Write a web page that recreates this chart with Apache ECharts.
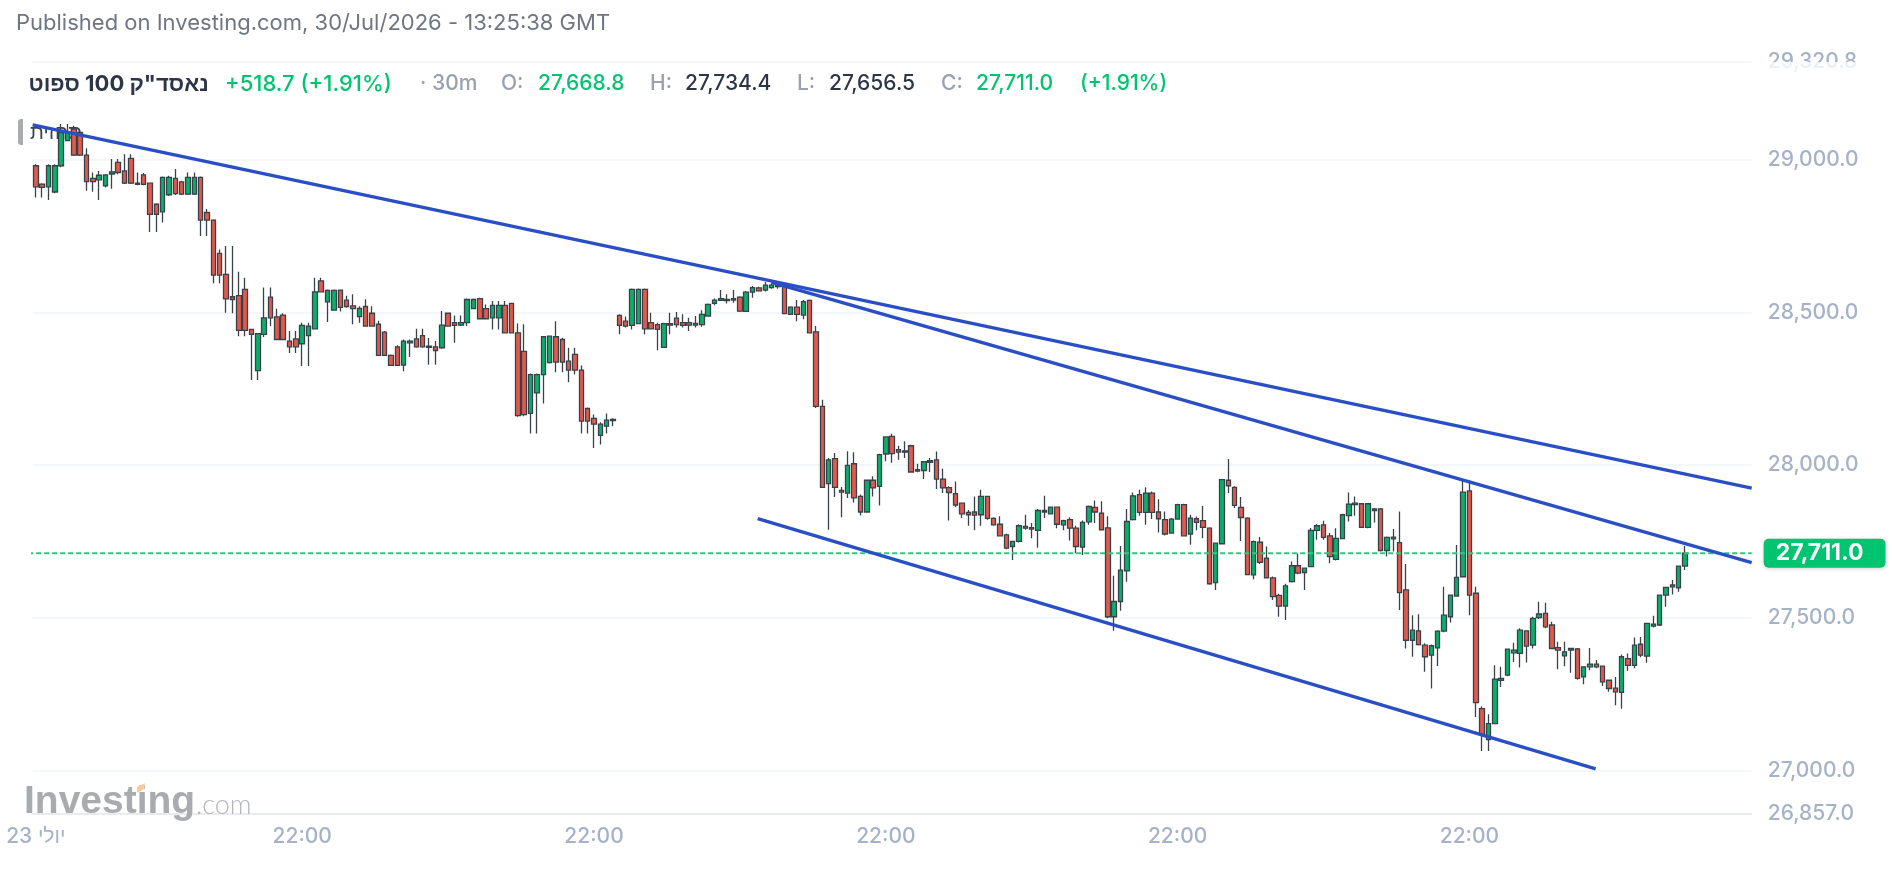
<!DOCTYPE html>
<html><head><meta charset="utf-8">
<script src="https://cdn.jsdelivr.net/npm/echarts@6/dist/echarts.min.js"></script>
<style>html,body{margin:0;padding:0;background:#fff}#c{width:1892px;height:869px}</style>
</head><body><div id="c"></div>
<script>
const opens=[28980,28920,28911,28894,28980,29062,29100,29089,29015,28939,
28934,28914,28953,28991,28963,29004,28923,28950,28923,28854,
28829,28885,28939,28927,28887,28887,28942,28827,28802,28693,
28624,28551,28555,28575,28444,28309,28428,28550,28485,28491,
28406,28413,28397,28424,28446,28603,28534,28507,28573,28540,
28521,28486,28519,28497,28461,28435,28359,28387,28327,28400,
28413,28424,28389,28387,28384,28497,28466,28458,28466,28512,
28545,28512,28482,28482,28523,28529,28433,28372,28169,28236,
28296,28335,28420,28411,28340,28362,28311,28185,28153,28097,
28127,28145,28490,28471,28457,28463,28575,28466,28460,28385,
28463,28481,28466,28466,28458,28460,28488,28529,28539,28538,
28540,28550,28503,28566,28580,28573,28581,28584,28586,28493,
28517,28491,28539,28436,28192,27939,28021,27917,27908,28004,
27897,27846,27950,27930,28036,28094,28050,28046,28063,27985,
27982,28009,28017,27954,27926,27906,27875,27845,27846,27837,
27897,27825,27806,27771,27733,27750,27799,27795,27786,27851,
27840,27862,27804,27821,27793,27731,27814,27861,27842,27794,
27503,27553,27653,27821,27903,27845,27908,27846,27821,27777,
27823,27870,27774,27824,27818,27793,27615,27742,27950,27927,
27861,27826,27640,27747,27695,27630,27573,27538,27618,27670,
27648,27667,27786,27804,27768,27691,27759,27834,27870,27873,
27796,27851,27856,27720,27758,27746,27591,27426,27457,27410,
27377,27401,27456,27503,27571,27634,27915,27580,27202,27101,
27153,27295,27312,27385,27383,27457,27410,27500,27514,27476,
27402,27375,27394,27398,27306,27339,27348,27341,27295,27269,
27255,27366,27344,27413,27374,27472,27476,27574,27601,27598,
27668.8];
const closes=[28911,28909,28980,28980,29089,29089,29015,29015,28928,28928,
28949,28950,28960,28958,28923,28923,28919,28919,28821,28821,
28942,28942,28889,28887,28942,28942,28802,28802,28622,28622,
28544,28542,28441,28441,28428,28430,28482,28482,28411,28411,
28387,28387,28457,28455,28567,28567,28572,28572,28516,28519,
28512,28513,28455,28455,28359,28359,28326,28326,28406,28406,
28387,28387,28385,28375,28458,28455,28457,28466,28542,28542,
28479,28479,28523,28523,28433,28433,28162,28165,28296,28296,
28420,28422,28337,28337,28311,28311,28144,28144,28134,28134,
28147,28149,28457,28455,28575,28575,28446,28446,28444,28463,
28458,28460,28457,28458,28464,28493,28526,28540,28545,28542,
28545,28504,28566,28581,28570,28589,28589,28590,28496,28517,
28493,28535,28433,28192,27927,28017,27927,27911,27999,27892,
27846,27950,27925,28034,28092,28037,28042,28042,27977,27980,
28011,28014,27954,27925,27910,27869,27840,27837,27836,27897,
27825,27804,27768,27728,27750,27801,27793,27790,27851,27846,
27862,27806,27818,27793,27733,27812,27864,27846,27788,27503,
27553,27656,27815,27899,27845,27908,27845,27824,27774,27823,
27870,27768,27826,27812,27796,27611,27744,27952,27932,27868,
27828,27641,27749,27681,27630,27569,27538,27604,27670,27646,
27662,27786,27801,27763,27700,27760,27837,27872,27875,27796,
27873,27856,27720,27763,27764,27582,27426,27459,27412,27372,
27408,27456,27508,27574,27632,27911,27574,27222,27118,27153,
27299,27301,27397,27394,27459,27407,27498,27512,27470,27399,
27394,27388,27399,27301,27339,27348,27339,27290,27268,27257,
27372,27344,27410,27377,27481,27479,27574,27599,27607,27669,
27711];
const lows=[28876,28876,28868,28890,28975,29060,29012,29012,28898,28895,
28868,28909,28905,28952,28920,28920,28916,28916,28763,28763,
28794,28881,28884,28884,28884,28884,28750,28750,28595,28595,
28499,28497,28422,28422,28278,28278,28419,28455,28409,28409,
28367,28367,28324,28324,28444,28565,28468,28505,28503,28515,
28461,28466,28453,28453,28357,28357,28324,28324,28307,28354,
28384,28384,28328,28328,28381,28453,28400,28455,28455,28510,
28477,28477,28444,28444,28431,28431,28158,28160,28103,28103,
28201,28332,28304,28304,28271,28296,28103,28103,28056,28067,
28103,28127,28428,28450,28444,28461,28428,28444,28376,28383,
28428,28450,28450,28439,28450,28453,28486,28523,28537,28529,
28531,28501,28501,28548,28568,28568,28577,28577,28495,28491,
28471,28477,28431,28187,27925,27788,27895,27829,27892,27877,
27835,27845,27897,27867,28012,28007,28017,28023,27976,27976,
27954,27977,27921,27908,27818,27862,27826,27801,27786,27801,
27821,27801,27766,27724,27689,27746,27788,27760,27729,27826,
27838,27793,27786,27753,27711,27705,27804,27810,27786,27498,
27457,27523,27618,27818,27834,27804,27823,27779,27769,27775,
27821,27766,27739,27786,27760,27608,27591,27740,27908,27859,
27751,27639,27626,27676,27628,27558,27503,27492,27615,27642,
27591,27665,27755,27755,27678,27687,27757,27815,27834,27794,
27793,27812,27717,27700,27717,27525,27399,27372,27409,27323,
27268,27342,27452,27484,27569,27632,27508,27175,27063,27063,
27151,27273,27308,27355,27337,27353,27399,27496,27465,27397,
27331,27341,27320,27297,27282,27328,27334,27276,27257,27213,
27202,27326,27334,27370,27352,27468,27473,27536,27576,27585,
27656.5];
const highs=[28985,28923,28985,28985,29117,29117,29111,29098,29037,28958,
28963,28952,29002,29002,29018,29018,28958,28956,28925,28857,
28945,28947,28969,28931,28958,28958,28945,28838,28805,28706,
28717,28717,28633,28613,28446,28431,28581,28581,28512,28497,
28439,28439,28466,28466,28613,28613,28575,28575,28575,28554,
28559,28520,28543,28520,28472,28439,28362,28392,28411,28411,
28446,28446,28416,28406,28504,28499,28490,28490,28545,28545,
28548,28526,28537,28537,28537,28531,28463,28461,28300,28300,
28422,28424,28471,28417,28384,28384,28326,28188,28165,28140,
28169,28153,28494,28486,28578,28578,28578,28499,28466,28466,
28499,28501,28494,28482,28488,28507,28529,28545,28573,28559,
28573,28553,28570,28586,28584,28599,28595,28597,28592,28520,
28540,28540,28542,28455,28214,28023,28039,27928,28045,28042,
27903,27952,27963,28037,28094,28102,28063,28078,28066,28004,
28013,28023,28044,27988,27930,27946,27877,27853,27897,27919,
27899,27829,27832,27775,27752,27806,27837,27810,27856,27899,
27864,27864,27821,27829,27801,27818,27867,27884,27881,27832,
27637,27735,27856,27910,27919,27927,27913,27888,27848,27826,
27873,27873,27837,27831,27866,27796,27746,27954,28020,27930,
27895,27829,27753,27764,27733,27635,27578,27611,27684,27709,
27664,27794,27806,27817,27777,27793,27840,27910,27897,27875,
27875,27859,27859,27766,27790,27848,27676,27508,27511,27416,
27412,27459,27601,27576,27738,27949,27949,27601,27210,27184,
27344,27339,27399,27418,27465,27459,27503,27552,27549,27487,
27421,27421,27401,27401,27341,27401,27361,27343,27297,27306,
27379,27383,27435,27437,27483,27506,27576,27601,27623,27671,
27734.4];
const slotCount=271;
const timeTicks=[[0,'23 יולי'],[42,'22:00'],[88,'22:00'],[134,'22:00'],[180,'22:00'],[226,'22:00']];
const priceTicks=[26857,27000,27500,28000,28500,29000,29320.8];
const lastPrice=27711;
const trendUpper=[[0,29114],[271,27924.5]];
const trendLower=[[116.5,28598],[271,27680]];
const trendChannel=[[114.3,27824],[246.4,27005]];
const published='Published on Investing.com, 30/Jul/2026 - 13:25:38 GMT';
const symbolName='נאסד"ק 100 ספוט';
const changeText='+518.7 (+1.91%)';
const intervalText='· 30m';

const categories=Array.from({length:slotCount},()=>'');
timeTicks.forEach(([i,t])=>{categories[i]=t;});
const candles=opens.map((o,i)=>[o,closes[i],lows[i],highs[i]]);
const FONT='Inter, "Liberation Sans", sans-serif';
const fmt=v=>v.toLocaleString('en-US',{minimumFractionDigits:1,maximumFractionDigits:1});
const GREEN='#00c46f', AXIS='#a6b2c7';
const txt=(x,y,text,fill,extra)=>({type:'text',x,y,z:6,silent:true,
  style:Object.assign({text,fill,fontFamily:FONT,fontSize:21,fontWeight:500,verticalAlign:'middle'},extra||{})});
const trend=(data)=>({type:'line',xAxisIndex:1,yAxisIndex:0,data,symbol:'none',silent:true,z:5,
  lineStyle:{color:'#2a4ec4',width:3.4}});

const chart=echarts.init(document.getElementById('c'),null,{renderer:'canvas'});
chart.setOption({
  animation:false,
  backgroundColor:'#fff',
  grid:{left:32.6,right:140.3,top:61.7,bottom:55,containLabel:false},
  xAxis:[{type:'category',data:categories,boundaryGap:true,
    axisLine:{show:true,lineStyle:{color:'#e3e7ef',width:1.5}},axisTick:{show:false},splitLine:{show:false},
    axisLabel:{interval:0,color:AXIS,fontFamily:FONT,fontSize:21,fontWeight:500,margin:12}},
    {type:'value',min:0,max:slotCount,show:false}],
  yAxis:[{type:'value',position:'right',min:26857,max:29320.8,scale:true,
    axisLine:{show:false},axisTick:{show:false,customValues:priceTicks},
    splitLine:{show:true,lineStyle:{color:'#f1f4f9',width:1.5}},
    axisLabel:{customValues:priceTicks,formatter:fmt,color:AXIS,fontFamily:FONT,fontSize:21,fontWeight:500,margin:16,padding:[0,0,8,0]}}],
  series:[
    {type:'candlestick',data:candles,barWidth:5,silent:true,z:3,
      itemStyle:{color:'#0aaf6c',color0:'#e25a4b',borderColor:'#39414a',borderColor0:'#39414a',borderWidth:1.3}},
    trend(trendUpper),trend(trendLower),trend(trendChannel),
    {type:'line',xAxisIndex:1,yAxisIndex:0,data:[[-0.7,lastPrice],[slotCount,lastPrice]],symbol:'none',silent:true,z:4,clip:false,
      lineStyle:{color:'#22d07f',width:2,type:[5,3]},
      endLabel:{show:true,formatter:()=>fmt(lastPrice),color:'#fff',fontFamily:FONT,fontWeight:'bold',fontSize:23,
        backgroundColor:GREEN,borderRadius:5,padding:[4,22,2,12],distance:12,
        shadowBlur:4,shadowColor:'rgba(0,0,0,.18)',shadowOffsetY:1}}
  ],
  graphic:[
    txt(16,23.5,published,'#6f7682',{fontSize:22,fontWeight:400}),
    txt(28.6,84,symbolName,'#2d3646',{fontWeight:'bold',fontSize:22}),
    txt(225,84,changeText,GREEN,{fontSize:22}),
    txt(420,84,intervalText,'#9aa1ad'),
    txt(501,84,'O:','#9aa1ad'),txt(538,84,fmt(opens[opens.length-1]),GREEN),
    txt(650,84,'H:','#9aa1ad'),txt(685,84,fmt(highs[highs.length-1]),'#2d3646'),
    txt(797,84,'L:','#9aa1ad'),txt(829,84,fmt(lows[lows.length-1]),'#2d3646'),
    txt(941,84,'C:','#9aa1ad'),txt(976,84,fmt(closes[closes.length-1]),GREEN),
    txt(1080,84,'(+1.91%)',GREEN),
    {type:'rect',z:1,silent:true,shape:{x:18,y:119,width:5,height:26,r:[3,0,0,3]},style:{fill:'#a9abae'}},
    {type:'text',z:1,silent:true,x:30,y:133,style:{text:'תחזית',fill:'#3a4250',fontFamily:FONT,fontSize:20,verticalAlign:'middle'}},
    {type:'rect',z:20,silent:true,shape:{x:1760,y:62,width:110,height:14},style:{fill:'rgba(255,255,255,.78)'}},
    {type:'text',z:20,silent:true,x:24,y:802,style:{text:'Investing',fill:'rgba(160,162,165,.9)',fontFamily:'"Liberation Sans"',fontWeight:'bold',fontSize:39,verticalAlign:'middle'}},
    {type:'text',z:20,silent:true,x:196,y:805,style:{text:'.com',fill:'#b4b6b9',fontFamily:'Lato, "Liberation Sans"',fontWeight:300,fontSize:27,verticalAlign:'middle'}},
    {type:'polygon',z:21,silent:true,shape:{points:[[137,787],[145,783],[144,789],[137,793]]},style:{fill:'#fbc99c'}}
  ]
});
</script></body></html>
